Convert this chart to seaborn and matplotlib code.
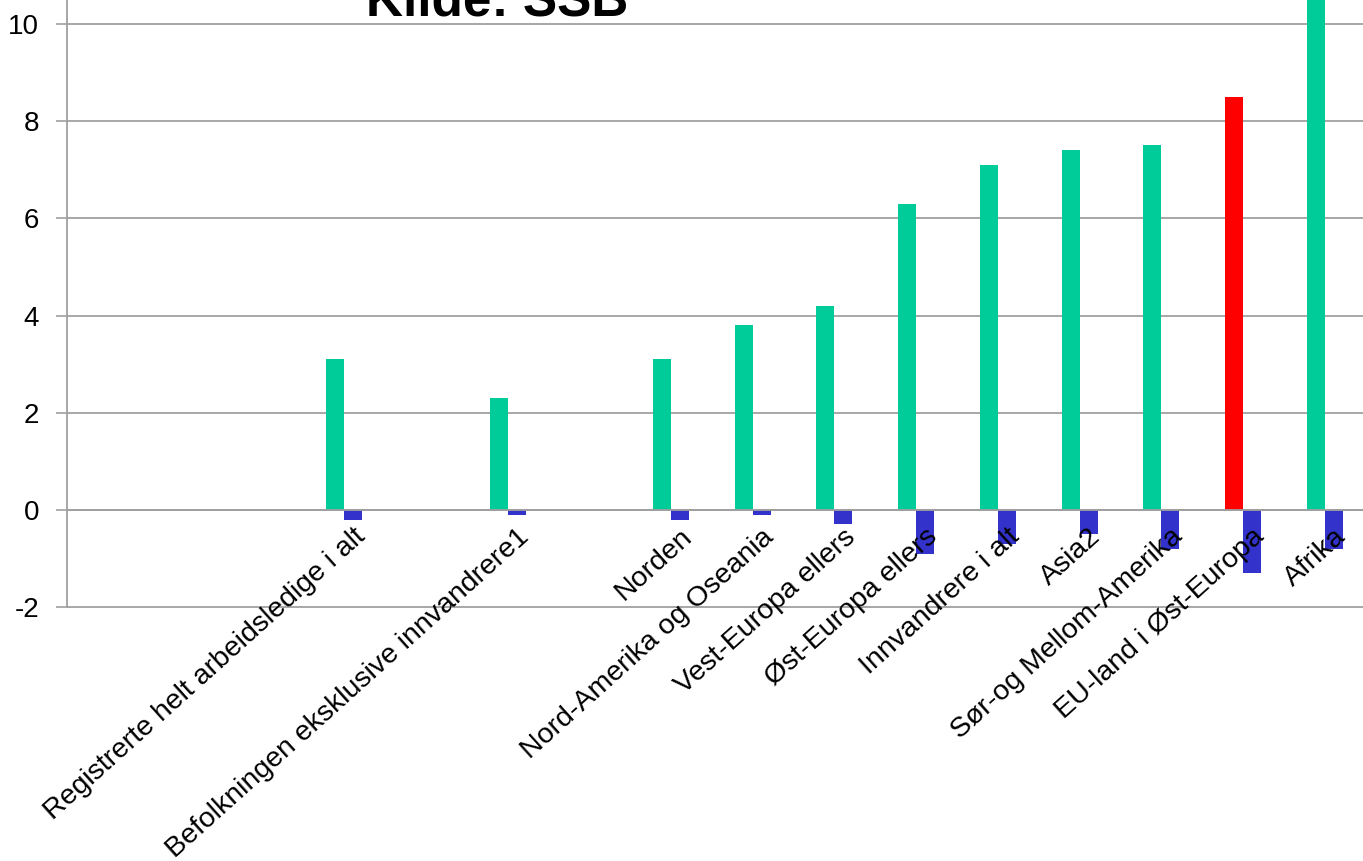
import numpy as np
import pandas as pd
import matplotlib
matplotlib.use("Agg")
import matplotlib.pyplot as plt
import seaborn as sns

# ----------------------------------------------------------
# Data
# ----------------------------------------------------------

# slots on the x axis, empty slots keep their place
slots = ["_1", "_2", "_3",
         "Registrerte helt arbeidsledige i alt", "_4",
         "Befolkningen eksklusive innvandrere1", "_5",
         "Norden", "Nord-Amerika og Oseania", "Vest-Europa ellers",
         "Øst-Europa ellers", "Innvandrere i alt", "Asia2",
         "Sør-og Mellom-Amerika", "EU-land i Øst-Europa", "Afrika"]

groups = ["Registrerte helt arbeidsledige i alt",
          "Befolkningen eksklusive innvandrere1",
          "Norden", "Nord-Amerika og Oseania", "Vest-Europa ellers",
          "Øst-Europa ellers", "Innvandrere i alt", "Asia2",
          "Sør-og Mellom-Amerika", "EU-land i Øst-Europa", "Afrika"]

nivaa = [3.1, 2.3, 3.1, 3.8, 4.2, 6.3, 7.1, 7.4, 7.5, 8.5, 11.4]
endring = [-0.2, -0.1, -0.2, -0.1, -0.3, -0.9, -0.7, -0.5, -0.8, -1.3, -0.8]

series = ["Nivå", "Endring", "Serie3"]   # third series is empty
highlight = "EU-land i Øst-Europa"

yticks = [-2, 0, 2, 4, 6, 8, 10]

df = pd.DataFrame({
    "gruppe": groups * 2,
    "serie": ["Nivå"] * len(groups) + ["Endring"] * len(groups),
    "verdi": nivaa + endring,
})

# ----------------------------------------------------------
# Figure
# ----------------------------------------------------------

sns.set_style("white")
plt.rcParams["font.family"] = ["Liberation Sans", "DejaVu Sans"]
plt.rcParams["text.color"] = "black"
plt.rcParams["xtick.color"] = "black"
plt.rcParams["ytick.color"] = "black"

fig = plt.figure(figsize=(13.63, 8.61), dpi=100)
ax = fig.add_axes([67 / 1363, (861 - 607) / 861, 1 - 67 / 1363, 607 / 861])

grey = "#A0A0A0"
# horizontal gridlines below the bars
for v in yticks:
    ax.axhline(v, color=grey, linewidth=1.3, zorder=0.3, clip_on=False)

sns.barplot(
    data=df, x="gruppe", y="verdi", hue="serie",
    order=slots, hue_order=series,
    palette={"Nivå": "#00CC99", "Endring": "#3333CC", "Serie3": "#999999"},
    width=0.66, saturation=1, linewidth=0, ax=ax, legend=False,
)

# red bar for the highlighted group
hi = slots.index(highlight)
for bar in ax.containers[0]:
    if abs(bar.get_x() + bar.get_width() / 2 - (hi - 0.22)) < 0.05:
        bar.set_facecolor("#FF0000")

ax.set_ylim(-2, 10 + 24 / 48.58)
ax.set_xlim(-0.5, -0.5 + (1363 - 67) / 81.73)
ax.set_yticks(yticks)
ax.set_yticklabels([str(v) for v in yticks], fontsize=20)
ax.grid(False)
ax.set_axisbelow(False)

# x axis crosses at 0
ax.spines["bottom"].set_position(("data", 0))
ax.spines["bottom"].set_color(grey)
ax.spines["bottom"].set_linewidth(1.3)
ax.spines["left"].set_color(grey)
ax.spines["left"].set_linewidth(1.3)
ax.spines["top"].set_visible(False)
ax.spines["right"].set_visible(False)

ax.set_xticks(range(len(slots)))
ax.set_xticklabels([s if not s.startswith("_") else "" for s in slots],
                   fontsize=20.5, rotation=42, ha="right", va="top",
                   rotation_mode="anchor")
ax.set_xticks(np.arange(0.5, len(slots) - 0.5), minor=True)
ax.tick_params(axis="x", which="major", length=0, pad=10)
ax.tick_params(axis="x", which="minor", length=6, width=1.2, color=grey,
               direction="out")
ax.tick_params(axis="y", length=8, width=1.2, color=grey, labelcolor="black",
               pad=12, left=True)
ax.set_xlabel("")
ax.set_ylabel("")

fig.text(497 / 1363, 1 - 15 / 861, "Kilde: SSB", fontsize=37,
         fontweight="bold", ha="center", va="baseline", color="black")

fig.savefig("out.png", dpi=100)
